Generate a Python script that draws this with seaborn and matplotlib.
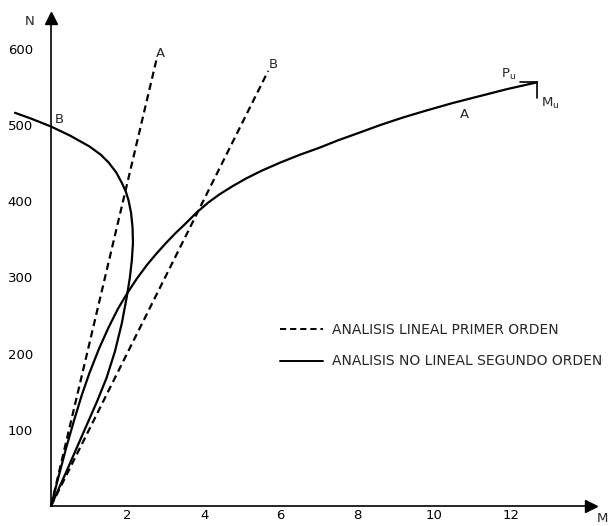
import numpy as np
import pandas as pd
import matplotlib
matplotlib.use("Agg")
import matplotlib.pyplot as plt
import seaborn as sns
from matplotlib.lines import Line2D

# lineal (primer orden) - rectas
linA_m = [0, 2.75]
linA_n = [0, 585]
linB_m = [0, 5.67]
linB_n = [0, 571]

# no lineal (segundo orden) - curva A
curA_m = [0, 0.2, 0.4, 0.6, 0.8, 1.0, 1.25, 1.5, 1.75, 2.0, 2.25, 2.5, 2.75, 3.0,
          3.25, 3.5, 3.8, 4.1, 4.4, 4.75, 5.1, 5.5, 6.0, 6.5, 7.0, 7.5, 8.0, 8.6,
          9.2, 9.8, 10.5, 11.2, 11.9, 12.69]
curA_n = [0, 39, 77, 112, 145, 174, 206, 234, 259, 280, 299, 316, 331, 345,
          358, 370, 385, 398, 409, 420, 430, 440, 451, 461, 470, 480, 489, 500,
          510, 519, 529, 538, 547, 556]

# curva B (vuelve hacia atras)
curB_m = [0, 0.4, 0.8, 1.2, 1.45, 1.67, 1.85, 1.98, 2.06, 2.11, 2.14, 2.13, 2.09,
          2.02, 1.95, 1.85, 1.7, 1.5, 1.3, 1.0, 0.5, 0, -0.5, -0.94]
curB_n = [0, 45, 91, 137, 168, 203, 240, 275, 300, 322, 345, 365, 385,
          402, 413, 424, 438, 451, 461, 472, 486, 498, 508, 516]

x_ticks = [2, 4, 6, 8, 10, 12]
y_ticks = [100, 200, 300, 400, 500, 600]

sns.set_theme(style="white")
plt.rcParams['font.family'] = ['DejaVu Sans']

fig = plt.figure(figsize=(6.15, 5.26), dpi=100)
ax = fig.add_axes([0, 0, 1, 1])

lin = pd.DataFrame({"m": linA_m + linB_m, "n": linA_n + linB_n,
                    "curva": ["A"] * 2 + ["B"] * 2})
for k, g in lin.groupby("curva"):
    sns.lineplot(data=g, x="m", y="n", ax=ax, color="black", lw=1.6,
                 sort=False, estimator=None, dashes=False)
    ax.lines[-1].set_dashes((3.2, 2.0))

curA = pd.DataFrame({"m": curA_m, "n": curA_n})
curB = pd.DataFrame({"m": curB_m, "n": curB_n})
sns.lineplot(data=curA, x="m", y="n", ax=ax, color="black", lw=1.6, sort=False, estimator=None)
sns.lineplot(data=curB, x="m", y="n", ax=ax, color="black", lw=1.6, sort=False, estimator=None)
for l in ax.lines:
    l.set_solid_joinstyle("round")

# Pu / Mu marca
ax.plot([curA_m[-1] - 0.45, curA_m[-1]], [curA_n[-1], curA_n[-1]], color="black", lw=1.2)
ax.plot([curA_m[-1], curA_m[-1]], [curA_n[-1], curA_n[-1] - 20], color="black", lw=1.2)
ax.text(curA_m[-1] - 0.75, curA_n[-1] + 10, "P$_\\mathregular{u}$", fontsize=9.5, ha="center", va="center")
ax.text(curA_m[-1] + 0.35, curA_n[-1] - 28, "M$_\\mathregular{u}$", fontsize=9.5, ha="center", va="center")

# etiquetas de curvas
ax.text(2.85, 594, "A", fontsize=9.5, ha="center", va="center")
ax.text(5.8, 580, "B", fontsize=9.5, ha="center", va="center")
ax.text(10.8, 514, "A", fontsize=9.5, ha="center", va="center")
ax.text(0.23, 507, "B", fontsize=9.5, ha="center", va="center")

ax.set_xlim(-51 / 38.3, (615 - 51) / 38.3)
ax.set_ylim(-(526 - 506) / 0.762, 506 / 0.762)

for s in ["top", "right"]:
    ax.spines[s].set_visible(False)
ax.spines["left"].set_position(("data", 0))
ax.spines["bottom"].set_position(("data", 0))
ax.spines["left"].set_bounds(0, 640)
ax.spines["bottom"].set_bounds(0, 14.1)
for s in ["left", "bottom"]:
    ax.spines[s].set_color("black")
    ax.spines[s].set_linewidth(1.2)
ax.plot(0, 640, marker="^", color="black", ms=9, clip_on=False)
ax.plot(14.1, 0, marker=">", color="black", ms=9, clip_on=False)

ax.set_xticks(x_ticks)
ax.set_yticks(y_ticks)
ax.tick_params(axis="both", direction="in", length=4, width=1, colors="black",
               labelsize=9.5)
ax.tick_params(axis="x", pad=2)
ax.tick_params(axis="y", pad=13)
ax.set_xlabel("")
ax.set_ylabel("")
ax.text(-0.55, 636, "N", fontsize=9.5, ha="center", va="center")
ax.text(14.4, -16, "M", fontsize=9.5, ha="center", va="center")

handles = [Line2D([], [], color="black", lw=1.4, dashes=(3.2, 2.0)),
           Line2D([], [], color="black", lw=1.4)]
ax.legend(handles, ["ANALISIS LINEAL PRIMER ORDEN", "ANALISIS NO LINEAL SEGUNDO ORDEN"],
          loc="upper left", bbox_to_anchor=(280 / 615, 1 - 323 / 526), frameon=False,
          fontsize=10, handlelength=3.1, handletextpad=0.65, labelspacing=1.25,
          borderpad=0, borderaxespad=0)

fig.savefig("out.png", dpi=100)
